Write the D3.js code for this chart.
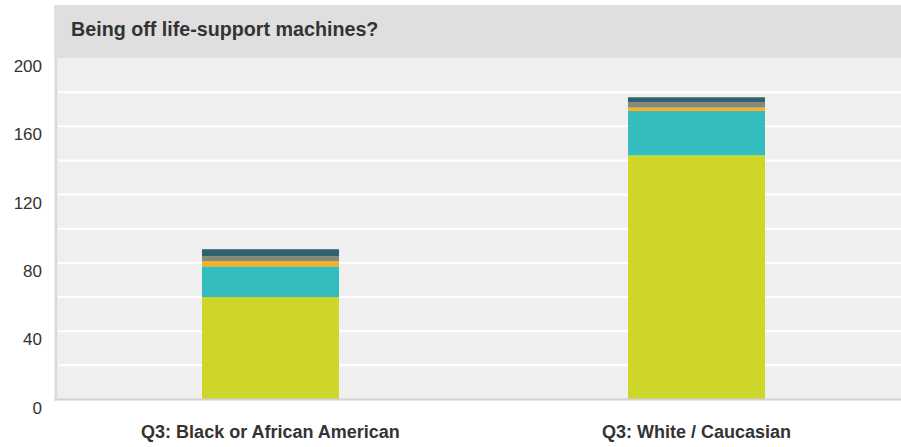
<!DOCTYPE html>
<html>
<head>
<meta charset="utf-8">
<script src="https://cdn.jsdelivr.net/npm/d3@7"></script>
<style>
  html, body { margin: 0; padding: 0; background: #ffffff; }
  svg { display: block; font-family: "Liberation Sans", Arial, Helvetica, sans-serif; }
</style>
</head>
<body>
<svg id="chart" width="901" height="447"></svg>
<script>
// ---- data ----
const title = "Being off life-support machines?";
const categories = ["Q3: Black or African American", "Q3: White / Caucasian"];
const seriesNames = ["s1", "s2", "s3", "s4", "s5"];
const seriesColors = ["#cfd62a", "#34bdbf", "#f8b01f", "#888a78", "#2f626c"];
const s1 = [60, 143];
const s2 = [18, 26];
const s3 = [3, 2];
const s4 = [3, 3];
const s5 = [4, 3];
const yTicks = [0, 40, 80, 120, 160, 200];
const yGrid = [20, 40, 60, 80, 100, 120, 140, 160, 180];

// ---- layout ----
const svg = d3.select("#chart");
const plot = { left: 57.5, right: 901, top: 58, bottom: 399.5 };

const y = d3.scaleLinear().domain([0, 200]).range([plot.bottom, plot.top]);
const x = d3.scaleBand().domain(categories).range([57.5, 909.5]).padding(0);
const barFrac = 0.3216;

// title band
svg.append("rect").attr("x", 54).attr("y", 5).attr("width", 847).attr("height", 53).attr("fill", "#dfdfdf");
svg.append("text").attr("x", 71).attr("y", 36).attr("font-size", 19.7).attr("font-weight", "bold")
  .attr("fill", "#333333").text(title);

// plot background
svg.append("rect").attr("x", plot.left).attr("y", plot.top)
  .attr("width", plot.right - plot.left).attr("height", plot.bottom - plot.top).attr("fill", "#efefef");

// grid lines
svg.append("g").selectAll("line").data(yGrid).join("line")
  .attr("x1", plot.left).attr("x2", plot.right)
  .attr("y1", d => y(d)).attr("y2", d => y(d))
  .attr("stroke", "#ffffff").attr("stroke-width", 2);

// stacked bars
const rows = categories.map((c, i) => ({ cat: c, s1: s1[i], s2: s2[i], s3: s3[i], s4: s4[i], s5: s5[i] }));
const stack = d3.stack().keys(seriesNames)(rows);
const bw = x.bandwidth() * barFrac;
svg.append("g").selectAll("g").data(stack).join("g")
  .attr("fill", (d, i) => seriesColors[i])
  .selectAll("rect").data(d => d).join("rect")
  .attr("x", d => x(d.data.cat) + x.bandwidth() / 2 - bw / 2)
  .attr("width", bw)
  .attr("y", d => y(d[1]))
  .attr("height", d => y(d[0]) - y(d[1]));

// axis lines
svg.append("rect").attr("x", 54.5).attr("y", plot.top).attr("width", 3).attr("height", plot.bottom - plot.top + 1).attr("fill", "#dcdcdc");
svg.append("rect").attr("x", 54.5).attr("y", plot.bottom - 1).attr("width", plot.right - 54.5).attr("height", 2).attr("fill", "#d2d2d2");

// y tick labels
svg.append("g").selectAll("text").data(yTicks).join("text")
  .attr("x", 42).attr("y", d => y(d) + 14)
  .attr("text-anchor", "end").attr("font-size", 17).attr("fill", "#333333")
  .text(d => d);

// x labels
svg.append("g").selectAll("text").data(categories).join("text")
  .attr("x", d => x(d) + x.bandwidth() / 2).attr("y", 438)
  .attr("text-anchor", "middle").attr("font-size", 18).attr("font-weight", "bold").attr("fill", "#333333")
  .text(d => d);
</script>
</body>
</html>
